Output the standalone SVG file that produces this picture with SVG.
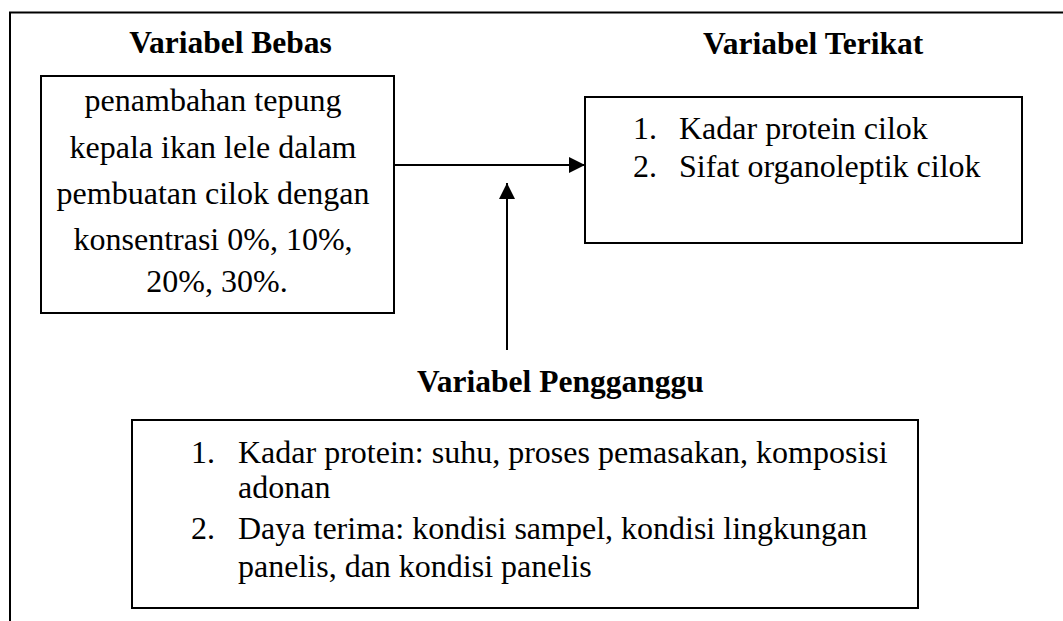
<svg xmlns="http://www.w3.org/2000/svg" width="1063" height="621" viewBox="0 0 1063 621">
<style>
.box{fill:#fff;stroke:#000;stroke-width:2}
.t{font-family:"Liberation Serif","Times New Roman",serif;font-size:32px;fill:#000}
.h{font-family:"Liberation Serif","Times New Roman",serif;font-size:31.5px;font-weight:bold;fill:#000}
.ln{stroke:#000;stroke-width:2;fill:none}
</style>
<defs>
<marker id="ah" viewBox="0 0 16 16" refX="16" refY="8" markerWidth="16" markerHeight="16" markerUnits="userSpaceOnUse" orient="auto">
<path d="M0,0 L16,8 L0,16 Z" fill="#000"/>
</marker>
</defs>
<rect width="1063" height="621" fill="#fff"/>
<g id="frame">
<path class="ln" d="M10,621 V12.5 H1063"/>
</g>
<g id="title-bebas"><text class="h" x="230.5" y="53" text-anchor="middle">Variabel Bebas</text></g>
<g id="title-terikat"><text class="h" x="703" y="54">Variabel Terikat</text></g>
<g id="node-bebas">
<rect class="box" x="41" y="76" width="353" height="237"/>
<text class="t" text-anchor="middle">
<tspan x="217" y="111">penambahan tepung</tspan>
<tspan x="217" y="158">kepala ikan lele dalam</tspan>
<tspan x="217" y="204">pembuatan cilok dengan</tspan>
<tspan x="217" y="250">konsentrasi 0%, 10%,</tspan>
<tspan x="217" y="292">20%, 30%.</tspan>
</text>
</g>
<g id="node-terikat">
<rect class="box" x="585" y="97" width="437" height="146"/>
<text class="t"><tspan x="633" y="139">1.</tspan><tspan x="679" y="139">Kadar protein cilok</tspan></text>
<text class="t"><tspan x="633" y="177">2.</tspan><tspan x="679" y="177">Sifat organoleptik cilok</tspan></text>
</g>
<g id="title-pengganggu"><text class="h" x="417" y="392">Variabel Pengganggu</text></g>
<g id="node-pengganggu">
<rect class="box" x="132" y="420" width="786" height="188"/>
<text class="t"><tspan x="191" y="463">1.</tspan><tspan x="238" y="463">Kadar protein: suhu, proses pemasakan, komposisi</tspan></text>
<text class="t" x="238" y="498">adonan</text>
<text class="t"><tspan x="191" y="539">2.</tspan><tspan x="238" y="539">Daya terima: kondisi sampel, kondisi lingkungan</tspan></text>
<text class="t" x="238" y="577">panelis, dan kondisi panelis</text>
</g>
<g id="connectors">
<line class="ln" x1="394" y1="165" x2="585" y2="165" marker-end="url(#ah)"/>
<line class="ln" x1="507" y1="350" x2="507" y2="183" marker-end="url(#ah)"/>
</g>
</svg>
